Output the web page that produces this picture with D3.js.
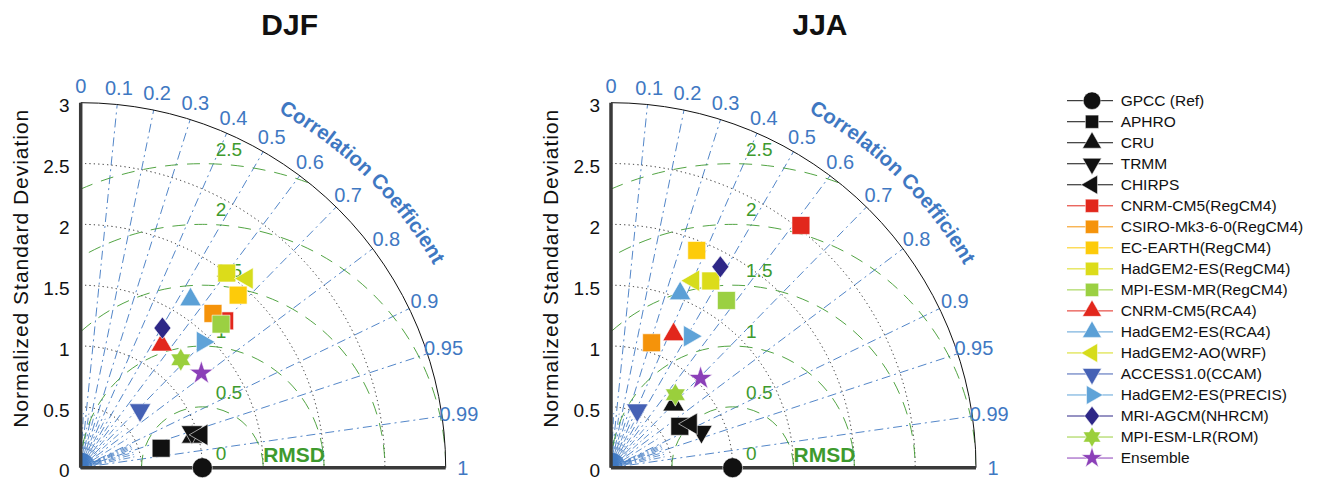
<!DOCTYPE html>
<html><head><meta charset="utf-8">
<script src="https://cdn.jsdelivr.net/npm/d3@7"></script>
<style>
body{margin:0;background:#fff;}
svg{font-family:"Liberation Sans",Arial,Helvetica,sans-serif;}
</style>
</head><body>
<svg id="chart" width="1317" height="480"></svg>
<script>
// ---------------- data ----------------
const names = ["GPCC (Ref)","APHRO","CRU","TRMM","CHIRPS",
  "CNRM-CM5(RegCM4)","CSIRO-Mk3-6-0(RegCM4)","EC-EARTH(RegCM4)","HadGEM2-ES(RegCM4)","MPI-ESM-MR(RegCM4)",
  "CNRM-CM5(RCA4)","HadGEM2-ES(RCA4)","HadGEM2-AO(WRF)","ACCESS1.0(CCAM)","HadGEM2-ES(PRECIS)",
  "MRI-AGCM(NHRCM)","MPI-ESM-LR(ROM)","Ensemble"];
const seasons = ["DJF","JJA"];
const djfStd  = [1.00,0.68,0.95,0.96,1.03, 1.69,1.67,1.92,2.00,1.65, 1.21,1.65,2.07,0.68,1.44, 1.33,1.21,1.26];
const djfCorr = [1.00,0.972,0.964,0.952,0.965, 0.700,0.651,0.674,0.600,0.699, 0.551,0.547,0.660,0.717,0.696, 0.505,0.680,0.787];
const jjaStd  = [1.00,0.66,0.73,0.80,0.75, 2.53,1.08,1.92,1.74,1.67, 1.21,1.54,1.68,0.52,1.26, 1.88,0.80,1.04];
const jjaCorr = [1.00,0.857,0.705,0.929,0.877, 0.617,0.309,0.367,0.471,0.568, 0.425,0.369,0.403,0.415,0.514, 0.478,0.661,0.708];
const stdTicks  = [0,0.5,1,1.5,2,2.5,3];
const stdArcs   = [0.5,1,1.5,2,2.5];
const corrTicks = [0,0.1,0.2,0.3,0.4,0.5,0.6,0.7,0.8,0.9,0.95,0.99,1];
const rmsTicks  = [0,0.5,1,1.5,2,2.5];

// ---------------- styles ----------------
const colors = ["#111","#111","#111","#111","#111",
  "#E2271C","#F5930A","#FDCB0A","#DCDC1A","#9BD042",
  "#E2271C","#5BA0D6","#D6DC1C","#4561B5","#5FA3D8",
  "#2E2787","#9ACF3C","#8B3FB8"];
const shapes = ["circle","square","up","down","left",
  "square","square","square","square","square",
  "up","up","left","down","right",
  "diamond","hexagram","star"];

const svg = d3.select("#chart");
const R = 365;
const blue = "#3F78C2", green = "#3E9A2E";

function markerPath(shape, k){
  switch(shape){
    case "circle": return d3.symbol(d3.symbolCircle, 314*k*k)();
    case "square": return d3.symbol(d3.symbolSquare, 320*k*k)();
    case "up": case "down": case "left": case "right":
      return d3.symbol(d3.symbolTriangle, 200*k*k)();
    case "diamond": { const w=8.5*k, h=11*k; return `M0,${-h}L${w},0L0,${h}L${-w},0Z`; }
    case "hexagram": {
      const Ro=11.5*k, Ri=Ro/Math.sqrt(3); const p=[];
      for(let i=0;i<12;i++){const a=(-90+i*30)*Math.PI/180, rr=i%2?Ri:Ro; p.push([rr*Math.cos(a),rr*Math.sin(a)]);}
      return "M"+p.map(d=>d.join(",")).join("L")+"Z";
    }
    case "star": return d3.symbol(d3.symbolStar, 175*k*k)();
  }
}
function rot(shape){ return {down:180,left:-90,right:90}[shape]||0; }

function panel(idx, ox, oy, stdArr, corrArr){
  const g = svg.append("g").attr("transform",`translate(${ox},${oy})`);
  const r = d3.scaleLinear().domain([0,3]).range([0,R]);
  const clipId = "clip"+idx;
  g.append("clipPath").attr("id",clipId).append("path")
    .attr("d",`M0,0L${R},0A${R},${R} 0 0 0 0,${-R}Z`);

  // minor fan lines near origin
  const fine = d3.range(1,100).map(i=>i/100).filter(c=>!corrTicks.includes(c));
  g.append("g").selectAll("line").data(fine).join("line")
    .attr("x1",0).attr("y1",0)
    .attr("x2",c=>r(0.12)*c).attr("y2",c=>-r(0.12)*Math.sqrt(1-c*c))
    .attr("stroke",blue).attr("stroke-width",0.5);
  const minor = [0.05,0.15,0.25,0.35,0.45,0.55,0.65,0.75,0.85,0.91,0.92,0.93,0.94,0.96,0.97,0.98];
  g.append("g").selectAll("line").data(minor).join("line")
    .attr("x1",0).attr("y1",0)
    .attr("x2",c=>r(0.45)*c).attr("y2",c=>-r(0.45)*Math.sqrt(1-c*c))
    .attr("stroke",blue).attr("stroke-width",0.8).attr("stroke-dasharray","7,3,1.5,3");

  // correlation lines
  g.append("g").selectAll("line").data(corrTicks.filter(c=>c>0&&c<1)).join("line")
    .attr("x1",0).attr("y1",0)
    .attr("x2",c=>R*c).attr("y2",c=>-R*Math.sqrt(1-c*c))
    .attr("stroke",blue).attr("stroke-width",0.9).attr("stroke-dasharray","9,4,2,4");

  // std dotted arcs
  g.append("g").selectAll("path").data(stdArcs).join("path")
    .attr("d",s=>`M0,${-r(s)}A${r(s)},${r(s)} 0 0 1 ${r(s)},0`)
    .attr("fill","none").attr("stroke","#222").attr("stroke-width",1).attr("stroke-dasharray","1.2,3.2");

  // RMSD arcs
  g.append("g").attr("clip-path",`url(#${clipId})`).selectAll("path").data(rmsTicks.filter(d=>d>0)).join("path")
    .attr("d",k=>`M${r(1)-r(k)},0A${r(k)},${r(k)} 0 0 1 ${r(1)+r(k)},0`)
    .attr("fill","none").attr("stroke",green).attr("stroke-width",0.9).attr("stroke-dasharray","13,9");

  // outer arc
  g.append("path").attr("d",`M0,${-R}A${R},${R} 0 0 1 ${R},0`)
    .attr("fill","none").attr("stroke","#111").attr("stroke-width",1);
  // axes
  g.append("line").attr("x1",0).attr("y1",0).attr("x2",0).attr("y2",-R)
    .attr("stroke","#3a3a3a").attr("stroke-width",3.5);
  g.append("line").attr("x1",0).attr("y1",0).attr("x2",R).attr("y2",0)
    .attr("stroke","#3a3a3a").attr("stroke-width",3.5);

  // y tick labels
  g.append("g").selectAll("text").data(stdTicks).join("text")
    .attr("x",-11).attr("y",s=>-r(s)+3).attr("dy","0.35em")
    .attr("text-anchor","end").attr("font-size",19).attr("fill","#111")
    .text(s=>String(s));
  // y label
  g.append("text").attr("transform",`translate(-53,-199) rotate(-90)`)
    .attr("text-anchor","middle").attr("font-size",21).attr("fill","#111")
    .attr("textLength",318).attr("lengthAdjust","spacing")
    .text("Normalized Standard Deviation");

  // corr labels
  g.append("g").selectAll("text").data(corrTicks).join("text")
    .attr("x",c=>382*c).attr("y",c=>-382*Math.sqrt(1-c*c)).attr("dy","0.35em")
    .attr("text-anchor","middle").attr("font-size",20).attr("fill",blue)
    .text(c=>String(c));

  // Correlation Coefficient curved label, letter by letter
  const label = "Correlation Coefficient";
  const fs = 20.5, rr = 407, centerA = 45.4*Math.PI/180;
  const tmp = g.append("text").attr("font-size",fs).attr("font-weight","bold").text(label);
  const widths = [...label].map((c,i)=>tmp.node().getSubStringLength(i,1));
  tmp.remove();
  const total = d3.sum(widths);
  let cum = 0;
  const letters = [...label].map((c,i)=>{
    const a = centerA + (total/2)/rr - (cum + widths[i]/2)/rr;
    cum += widths[i];
    return {c, a};
  }).filter(d=>d.c!==" ");
  g.append("g").selectAll("text").data(letters).join("text")
    .attr("transform",d=>`translate(${rr*Math.cos(d.a)},${-rr*Math.sin(d.a)}) rotate(${90-d.a*180/Math.PI})`)
    .attr("text-anchor","middle").attr("font-size",fs).attr("font-weight","bold").attr("fill",blue)
    .text(d=>d.c);

  // RMSD labels
  g.append("g").selectAll("text").data(rmsTicks).join("text")
    .attr("x",r(1.11)).attr("y",k=>-r(k)-8)
    .attr("font-size",19).attr("fill",green).text(k=>String(k));
  g.append("text").attr("x",r(1.5)).attr("y",-6).attr("font-size",21).attr("font-weight","bold")
    .attr("fill",green).text("RMSD");

  // title
  g.append("text").attr("x",209).attr("y",35-oy).attr("text-anchor","middle")
    .attr("font-size",30).attr("font-weight","bold").attr("fill","#111").text(seasons[idx]);

  // markers
  const pts = names.map((n,i)=>({i, x:r(stdArr[i]*corrArr[i]), y:-r(stdArr[i]*Math.sqrt(1-corrArr[i]*corrArr[i]))}));
  g.append("g").selectAll("path").data(pts).join("path")
    .attr("d",d=>markerPath(shapes[d.i],1))
    .attr("transform",d=>`translate(${d.x},${d.y}) rotate(${rot(shapes[d.i])})`)
    .attr("fill",d=>colors[d.i]).attr("stroke","#fff").attr("stroke-width",0.6);
}

panel(0, 80.7, 467.7, djfStd, djfCorr);
panel(1, 611, 467.7, jjaStd, jjaCorr);

// legend
const lg = svg.append("g");
const rows = lg.selectAll("g").data(names).join("g")
  .attr("transform",(d,i)=>`translate(1092,${100.7+i*21.02})`);
rows.append("line").attr("x1",-25).attr("x2",21).attr("y1",0).attr("y2",0)
  .attr("stroke",(d,i)=>colors[i]).attr("stroke-width",1);
rows.append("path").attr("d",(d,i)=>markerPath(shapes[i], shapes[i]==="square"?0.74:0.88))
  .attr("transform",(d,i)=>`rotate(${rot(shapes[i])})`)
  .attr("fill",(d,i)=>colors[i]).attr("stroke","#fff").attr("stroke-width",0.5);
rows.append("text").attr("x",28.7).attr("dy","0.35em").attr("font-size",15.5).attr("fill","#111")
  .text(d=>d);
</script>
</body></html>
